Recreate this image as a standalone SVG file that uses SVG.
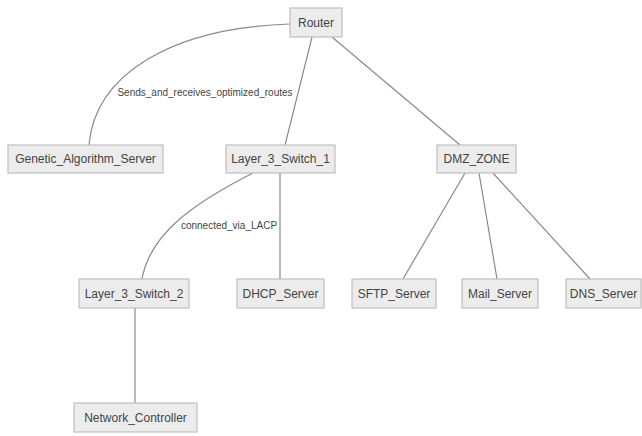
<svg xmlns="http://www.w3.org/2000/svg" width="642" height="436" viewBox="0 0 642 436">
<style>
.node rect{fill:#ececec;stroke:#b4b4b4;stroke-width:1}
.node text{font-family:"Liberation Sans",Arial,sans-serif;font-size:12px;fill:#444;text-anchor:middle;dominant-baseline:central}
.edges path{fill:none;stroke:#8a8a8a;stroke-width:1.2}
.lbl{font-family:"Liberation Sans",Arial,sans-serif;font-size:10px;fill:#444;text-anchor:middle;dominant-baseline:central}
</style>
<rect width="642" height="436" fill="#fff"/>
<g id="edges" class="edges">
<path d="M290,24 C170,28 95,75 89,145"/>
<path d="M312,37 L285,145"/>
<path d="M332,37 L460,145"/>
<path d="M253,173 C190,205 150,235 142,279"/>
<path d="M280,173 L280,279"/>
<path d="M465,173 L403,279"/>
<path d="M479,173 L497,279"/>
<path d="M493,173 L590,279"/>
<path d="M135,308 L135,403"/>
</g>
<g id="edge-labels">
<text class="lbl" x="205" y="92">Sends_and_receives_optimized_routes</text>
<text class="lbl" x="229" y="225">connected_via_LACP</text>
</g>
<g id="Router" class="node"><rect x="290" y="8" width="52" height="29"/><text x="316" y="22.5">Router</text></g>
<g id="Genetic_Algorithm_Server" class="node"><rect x="8" y="145" width="155" height="28"/><text x="85.5" y="159">Genetic_Algorithm_Server</text></g>
<g id="Layer_3_Switch_1" class="node"><rect x="226" y="145" width="109" height="28"/><text x="280.5" y="159">Layer_3_Switch_1</text></g>
<g id="DMZ_ZONE" class="node"><rect x="437" y="145" width="79" height="28"/><text x="476.5" y="159">DMZ_ZONE</text></g>
<g id="Layer_3_Switch_2" class="node"><rect x="79" y="279" width="110" height="29"/><text x="134" y="293.5">Layer_3_Switch_2</text></g>
<g id="DHCP_Server" class="node"><rect x="237" y="279" width="87" height="29"/><text x="280.5" y="293.5">DHCP_Server</text></g>
<g id="SFTP_Server" class="node"><rect x="352" y="279" width="84" height="29"/><text x="394" y="293.5">SFTP_Server</text></g>
<g id="Mail_Server" class="node"><rect x="462" y="279" width="76" height="29"/><text x="500" y="293.5">Mail_Server</text></g>
<g id="DNS_Server" class="node"><rect x="566" y="279" width="75" height="29"/><text x="603.5" y="293.5">DNS_Server</text></g>
<g id="Network_Controller" class="node"><rect x="74" y="403" width="123" height="29"/><text x="135.5" y="417.5">Network_Controller</text></g>
</svg>
